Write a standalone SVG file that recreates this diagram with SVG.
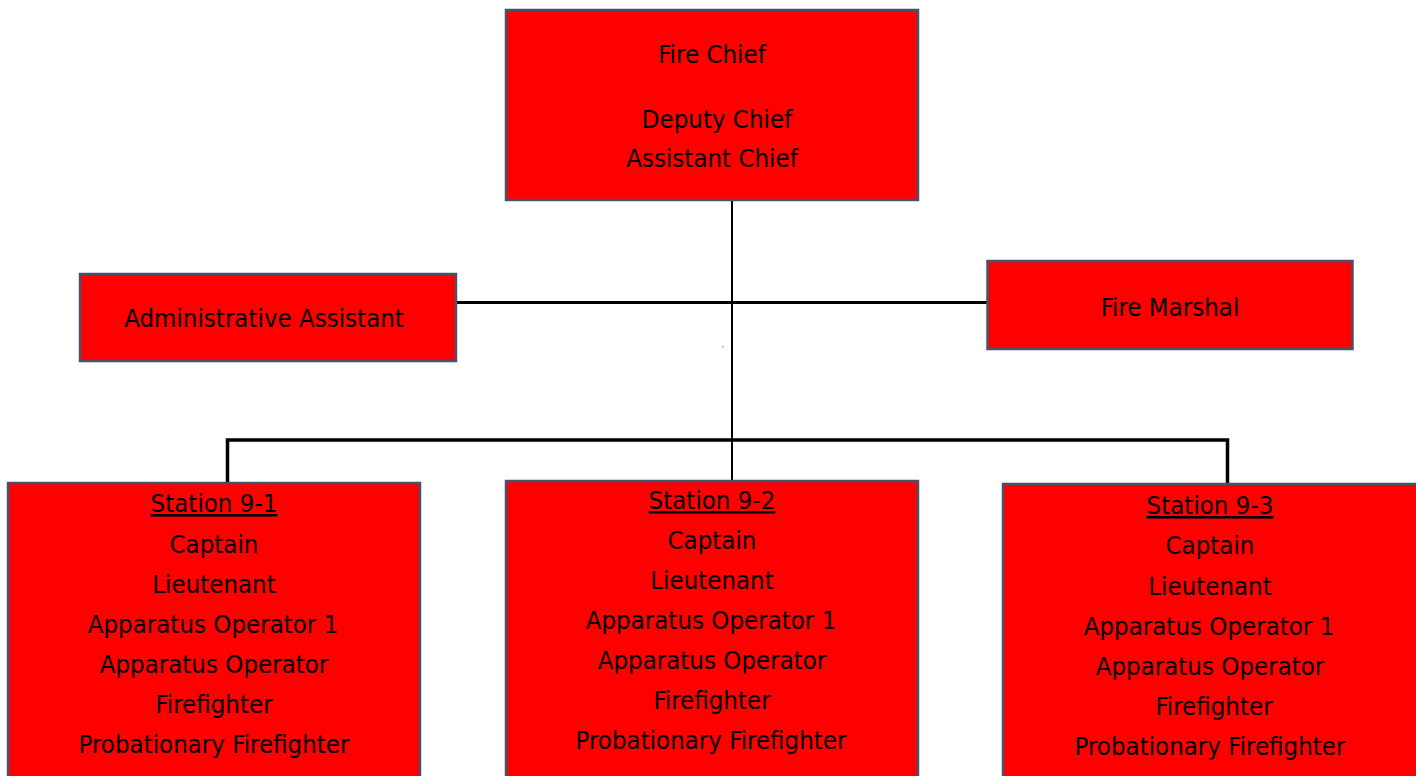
<svg xmlns="http://www.w3.org/2000/svg" width="1416" height="776" viewBox="0 0 1416 776">
<style>
.box{fill:#FF0000;stroke:#44546A;stroke-width:2.5}
.t{font-family:"DejaVu Sans Condensed","DejaVu Sans","Liberation Sans",sans-serif;font-stretch:condensed;font-size:25.6px;fill:#000;text-anchor:middle}
.u{text-decoration:underline}
.c{stroke:#000;fill:none}
</style>
<rect width="1416" height="776" fill="#fff"/>
<g id="connectors">
<line class="c" x1="732" y1="200" x2="732" y2="481" stroke-width="2"/>
<line class="c" x1="456" y1="302.5" x2="987" y2="302.5" stroke-width="3"/>
<polyline class="c" points="227.5,483 227.5,440 1227.5,440 1227.5,483" stroke-width="3.5"/>
<rect x="722" y="346" width="1.5" height="1.5" fill="#999"/>
</g>
<g id="fire-chief">
<rect class="box" x="506" y="10" width="412" height="190"/>
<text class="t" x="712" y="63">Fire Chief</text>
<text class="t" x="717" y="128">Deputy Chief</text>
<text class="t" x="712" y="167">Assistant Chief</text>
</g>
<g id="admin-assistant">
<rect class="box" x="80" y="274" width="376" height="87"/>
<text class="t" x="264" y="327">Administrative Assistant</text>
</g>
<g id="fire-marshal">
<rect class="box" x="987.5" y="261" width="365" height="88"/>
<text class="t" x="1170" y="316">Fire Marshal</text>
</g>
<g id="station-9-1">
<rect class="box" x="8" y="483" width="412" height="300"/>
<text class="t u" x="214" y="512">Station 9-1</text>
<text class="t" x="214" y="553">Captain</text>
<text class="t" x="214" y="593">Lieutenant</text>
<text class="t" x="213" y="633">Apparatus Operator 1</text>
<text class="t" x="214" y="673">Apparatus Operator</text>
<text class="t" x="214" y="713">Firefighter</text>
<text class="t" x="214" y="753">Probationary Firefighter</text>
</g>
<g id="station-9-2">
<rect class="box" x="506" y="481" width="412" height="300"/>
<text class="t u" x="712" y="509">Station 9-2</text>
<text class="t" x="712" y="549">Captain</text>
<text class="t" x="712" y="589">Lieutenant</text>
<text class="t" x="711" y="629">Apparatus Operator 1</text>
<text class="t" x="712" y="669">Apparatus Operator</text>
<text class="t" x="712" y="709">Firefighter</text>
<text class="t" x="711" y="749">Probationary Firefighter</text>
</g>
<g id="station-9-3">
<rect class="box" x="1003" y="484" width="420" height="300"/>
<text class="t u" x="1210" y="514">Station 9-3</text>
<text class="t" x="1210" y="554">Captain</text>
<text class="t" x="1210" y="595">Lieutenant</text>
<text class="t" x="1209" y="635">Apparatus Operator 1</text>
<text class="t" x="1210" y="675">Apparatus Operator</text>
<text class="t" x="1214" y="715">Firefighter</text>
<text class="t" x="1210" y="755">Probationary Firefighter</text>
</g>
</svg>
